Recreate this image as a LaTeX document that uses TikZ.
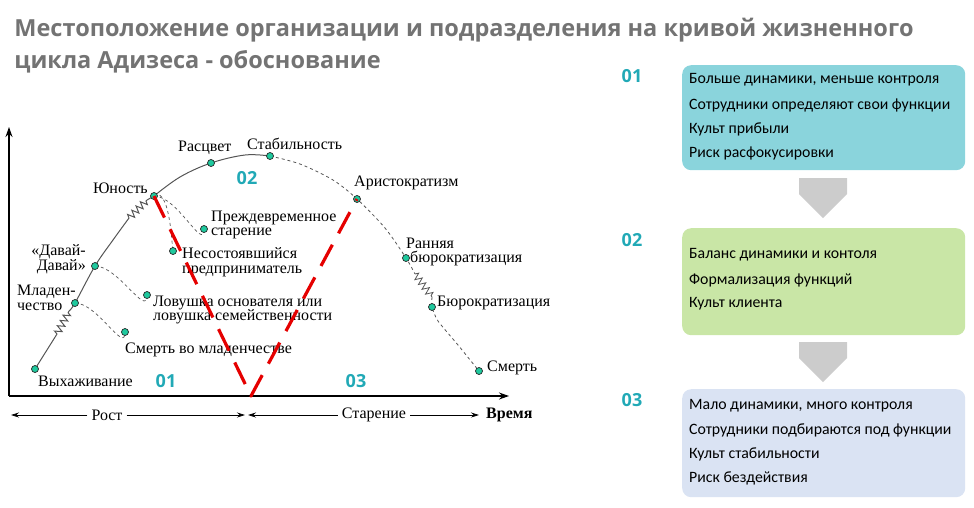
\documentclass[tikz,border=0pt]{standalone}
\usepackage{fontspec}
\setmainfont{Liberation Serif}
\newfontfamily\titlefont{Open Sans}
\newfontfamily\boxfont{Carlito}
\usetikzlibrary{positioning,decorations.pathmorphing,shapes.arrows,arrows.meta}
\pgfdeclarelayer{bg}
\pgfsetlayers{bg,main}
\definecolor{dotgreen}{HTML}{1FC99E}
\definecolor{numteal}{HTML}{21A9B6}
\definecolor{boxA}{HTML}{8AD4DC}
\definecolor{boxB}{HTML}{C9E6A6}
\definecolor{boxC}{HTML}{DAE3F3}
\definecolor{curvegray}{HTML}{555555}
\tikzset{
  dot/.style={circle,draw=black!85,fill=dotgreen,line width=.7pt,inner sep=0pt,minimum size=7pt},
  lbl/.style={font=\fontsize{16}{14.5}\selectfont,inner sep=1pt,align=left},
  num/.style={font=\titlefont\bfseries\fontsize{18}{18}\selectfont,text=numteal,inner sep=0pt},
  infobox/.style={rounded corners=9pt,minimum width=283pt,inner sep=0pt},
  boxline/.style={font=\boxfont\fontsize{15.8}{16}\selectfont,anchor=west,inner sep=0pt},
  downarrow/.style={single arrow,shape border rotate=270,fill=black!20,draw=none,
    minimum width=48pt,single arrow head extend=0pt,minimum height=40pt,inner sep=7pt},
  spring/.style={decorate,decoration={zigzag,segment length=6pt,amplitude=3.5pt}},
  curve/.style={curvegray,line width=1pt},
  trap/.style={curvegray,line width=.7pt,dashed},
  redline/.style={red!90!black,line width=3.2pt,dash pattern=on 24pt off 13pt},
  timearrow/.style={-{Stealth[length=8pt,width=5pt]},line width=.8pt},
}
\begin{document}
\begin{tikzpicture}[x=1pt,y=-1pt,thick,line join=round]
  \useasboundingbox (0,0) rectangle (974,507);
  % title
  \node[anchor=base west,inner sep=0pt,text=black!55,font=\titlefont\bfseries\fontsize{23.5}{30}\selectfont]
    (title1) at (14,36) {Местоположение организации и подразделения на кривой жизненного};
  \node[anchor=base west,inner sep=0pt,text=black!55,font=\titlefont\bfseries\fontsize{23.5}{30}\selectfont]
    (title2) at (14,68) {цикла Адизеса - обоснование};
  % axes
  \coordinate (O) at (9,396);
  \draw[-{Stealth[length=10pt,width=7pt]},line width=1.4pt] (O) -- (9,127);
  \draw[-{Stealth[length=10pt,width=7pt]},line width=1.4pt] (O) -- (509,396);
  % stages of the curve
  \node[dot] (vyh) at (35,369) {};
  \node[dot] (mlad) at (75,303) {};
  \node[dot] (davai) at (95,266) {};
  \node[dot] (yun) at (154,196) {};
  \node[dot] (rasc) at (211,163) {};
  \node[dot] (stab) at (270,156) {};
  \node[dot] (arist) at (357,199) {};
  \node[dot] (rbur) at (406,258) {};
  \node[dot] (bur) at (432,307) {};
  \node[dot] (smert) at (479,371) {};
  % traps
  \node[dot] (smladD) at (125,332) {};
  \node[dot] (lovD) at (147,295) {};
  \node[dot] (nesD) at (173,251) {};
  \node[dot] (prezhD) at (204,229) {};
  \begin{pgfonlayer}{bg}
    \draw[curve] (vyh.center) -- (57,334);
    \draw[curve,spring] (57,334) -- (69,311);
    \draw[curve] plot[smooth,tension=.6] coordinates {(69,311) (mlad.center) (davai.center) (113,240) (129,218)};
    \draw[curve,spring] (129,218) -- (147,200);
    \draw[curve] (147,200) -- (yun.center);
    \draw[curve] plot[smooth,tension=.6] coordinates {(yun.center) (180,177) (rasc.center) (245,155) (stab.center)};
    \draw[trap,line width=.8pt] plot[smooth,tension=.5] coordinates {(stab.center) (300,164) (333,180)
      (arist.center) (385,228) (rbur.center) (415,274)};
    \draw[curve,line width=.8pt,spring] (415,274) -- (432,297);
    \draw[trap,line width=.8pt] plot[smooth,tension=.4] coordinates {(432,297) (bur.center) (438,321) (458,345) (smert.center)};
    % branches
    \draw[trap] (mlad.center) to[out=0,in=-90] (smladD.center);
    \draw[trap] (davai.center) to[out=0,in=-90] (lovD.center);
    \draw[trap] (yun.center) to[out=35,in=-90] (nesD.center);
    \draw[trap] (yun.center) to[out=0,in=-90] (prezhD.center);
  \end{pgfonlayer}
  % labels
  \node[lbl,anchor=west] (vyhL) at (37,381) {Выхаживание};
  \node[lbl,anchor=west] (mladL) at (16,298) {Младен-\\чество};
  \node[lbl,anchor=east,align=right] (davaiL) at (87,259) {«Давай-\\Давай»};
  \node[lbl,anchor=east] (yunL) at (149,188) {Юность};
  \node[lbl,anchor=west] (rascL) at (177,148) {Расцвет};
  \node[lbl,anchor=west] (stabL) at (246,144) {Стабильность};
  \node[lbl,anchor=west] (aristL) at (353,183) {Аристократизм};
  \node[lbl,anchor=west] (rburL) at (405,252) {Ранняя\\\hspace*{4pt}бюрократизация};
  \node[lbl,anchor=west] (burL) at (436,303) {Бюрократизация};
  \node[lbl,anchor=west] (smertL) at (486,368) {Смерть};
  \node[lbl,anchor=west] (prezhL) at (210,225) {Преждевременное\\старение};
  \node[lbl,anchor=west] (nesL) at (181,262) {Несостоявшийся\\предприниматель};
  \node[lbl,anchor=west] (lovL) at (152,310) {Ловушка основателя или\\ловушка семейственности};
  \node[lbl,anchor=west] (smladL) at (124,350) {Смерть во младенчестве};
  % time line
  \node[lbl,inner sep=4pt] (rost) at (107,415) {Рост};
  \node[lbl,inner sep=4pt] (star) at (374,415) {Старение};
  \node[lbl,anchor=west,font=\bfseries\fontsize{16}{16}\selectfont] (vrem) at (485,415) {Время};
  \draw[timearrow] (rost.west) -- (11,415);
  \draw[timearrow] (rost.east) -- (245,415);
  \draw[timearrow] (star.west) -- (248,415);
  \draw[timearrow] (star.east) -- (479,415);
  % V of the red line
  \coordinate (vtip) at (251,396);
  \draw[redline] (yun.center) -- (vtip) -- (arist.center);
  \node[num] (n1) at (166,381) {01};
  \node[num] (n2) at (247,178) {02};
  \node[num] (n3) at (356,381) {03};
  % right hand boxes
  \node[num] (r1) at (632,76) {01};
  \node[num] (r2) at (632,240) {02};
  \node[num] (r3) at (632,400) {03};
  \node[infobox,fill=boxA,minimum height=105pt,anchor=north west] (boxA) at (682,65) {};
  \node[infobox,fill=boxB,minimum height=107pt,anchor=north west] (boxB) at (682,228) {};
  \node[infobox,fill=boxC,minimum height=108pt,anchor=north west] (boxC) at (682,389) {};
  \node[downarrow,anchor=north] (arA) at (823,178) {};
  \node[downarrow,anchor=north] (arB) at (823,342) {};
  \node[boxline] at (689,80) {Больше динамики, меньше контроля};
  \node[boxline] at (689,105) {Сотрудники определяют свои функции};
  \node[boxline] at (689,129) {Культ прибыли};
  \node[boxline] at (689,153) {Риск расфокусировки};
  \node[boxline] at (689,255) {Баланс динамики и контоля};
  \node[boxline] at (689,280) {Формализация функций};
  \node[boxline] at (689,304) {Культ клиента};
  \node[boxline] at (689,406) {Мало динамики, много контроля};
  \node[boxline] at (689,430) {Сотрудники подбираются под функции};
  \node[boxline] at (689,454) {Культ стабильности};
  \node[boxline] at (689,478) {Риск бездействия};
\end{tikzpicture}
\end{document}
